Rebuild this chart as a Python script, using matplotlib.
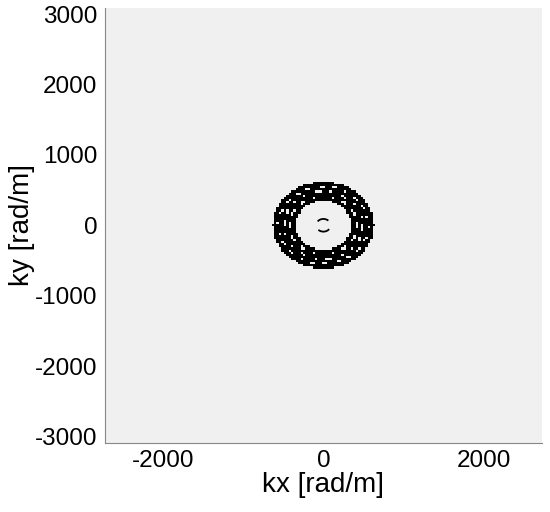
import numpy as np
import matplotlib.pyplot as plt

plt.rcParams['font.family'] = ['Liberation Sans', 'DejaVu Sans']
plt.rcParams['axes.unicode_minus'] = False

# spectrum ring (rad/m)
ring_inner = 350
ring_outer = 630
gap_radii = [420, 490, 560]     # thin light streaks inside the ring
center_arc_radius = 90
grid_step = 30
x_limits = [-2730, 2730]
y_limits = [-3090, 3090]
x_ticks = [-2000, 0, 2000]
y_ticks = [-3000, -2000, -1000, 0, 1000, 2000, 3000]

k = np.arange(-3210, 3210 + grid_step, grid_step)
kx, ky = np.meshgrid(k, k)
r = np.hypot(kx, ky * 1.02)
ang = np.arctan2(ky, kx)

img = np.zeros_like(r)
img[(r >= ring_inner) & (r <= ring_outer)] = 1
for i, g in enumerate(gap_radii):
    streak = (np.abs(r - g) < 12) & (np.cos(ang * (14 + 4 * i) + i) > 0.3)
    img[streak] = 0

fig, ax = plt.subplots(figsize=(5.5, 5.12), dpi=100)
fig.subplots_adjust(left=0.19, right=0.986, bottom=0.135, top=0.985)
ax.set_facecolor('#f0f0f0')
ax.pcolormesh(k, k, np.ma.masked_where(img == 0, img), cmap='gray_r', vmin=0, vmax=1, shading='nearest')

# small arcs near the centre
t = np.linspace(0.3 * np.pi, 0.75 * np.pi, 30)
ax.plot(center_arc_radius * np.cos(t), center_arc_radius * np.sin(t), color='black', lw=1.3)
ax.plot(-center_arc_radius * np.cos(t), -center_arc_radius * np.sin(t), color='black', lw=1.3)

ax.set_xlim(x_limits)
ax.set_ylim(y_limits)
ax.set_xticks(x_ticks)
ax.set_yticks(y_ticks)
ax.tick_params(length=0, labelsize=17.5, pad=5)
for s in ['top', 'right']:
    ax.spines[s].set_visible(False)
for s in ['left', 'bottom']:
    ax.spines[s].set_color('#888888')
ax.set_xlabel('kx [rad/m]', fontsize=20, labelpad=0)
ax.set_ylabel('ky [rad/m]', fontsize=20, labelpad=0)

fig.savefig('out.png')
